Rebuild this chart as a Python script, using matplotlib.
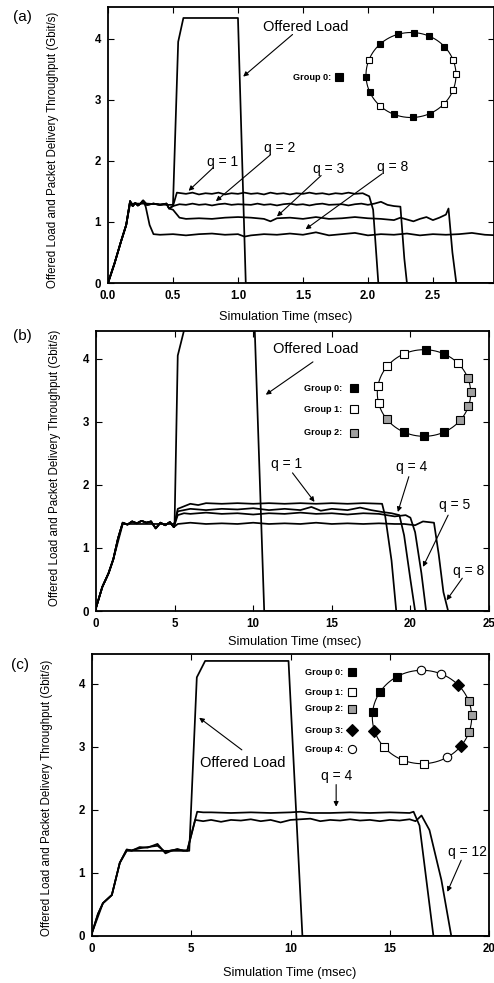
import numpy as np
import matplotlib.pyplot as plt

plt.rcParams['font.family'] = ['Liberation Sans', 'DejaVu Sans']

# ---------------- panel (a) data, time in msec, throughput in Gbit/s
a_load_t = [0, 0.05, 0.10, 0.14, 0.17, 0.30, 0.45, 0.50, 0.54, 0.58, 1.00, 1.06, 3.0]
a_load_y = [0, 0.32, 0.68, 0.95, 1.30, 1.30, 1.28, 1.28, 3.95, 4.34, 4.34, 0, 0]

a_q1_t = [0, 0.05, 0.10, 0.14, 0.17, 0.19, 0.21, 0.23, 0.25, 0.27, 0.30, 0.35, 0.40,
          0.45, 0.47, 0.50, 0.53, 0.60, 0.65, 0.70, 0.75, 0.80, 0.85, 0.90, 0.95, 1.00,
          1.05, 1.10, 1.15, 1.20, 1.25, 1.30, 1.35, 1.40, 1.45, 1.50, 1.55, 1.60, 1.65,
          1.70, 1.75, 1.80, 1.85, 1.90, 1.96, 2.01, 2.04, 2.08, 3.0]
a_q1_y = [0, 0.32, 0.68, 0.95, 1.34, 1.26, 1.31, 1.27, 1.30, 1.35, 1.28, 1.30, 1.28,
          1.30, 1.22, 1.26, 1.48, 1.46, 1.48, 1.45, 1.47, 1.46, 1.48, 1.45, 1.47, 1.46,
          1.48, 1.46, 1.47, 1.45, 1.48, 1.46, 1.47, 1.45, 1.47, 1.46, 1.48, 1.46, 1.47,
          1.45, 1.47, 1.46, 1.48, 1.46, 1.47, 1.42, 1.20, 0, 0]

a_q2_t = [0, 0.05, 0.10, 0.14, 0.17, 0.19, 0.21, 0.23, 0.25, 0.27, 0.30, 0.35, 0.40,
          0.45, 0.47, 0.50, 0.55, 0.60, 0.65, 0.70, 0.75, 0.80, 0.85, 0.90, 0.95, 1.00,
          1.10, 1.15, 1.20, 1.25, 1.30, 1.35, 1.40, 1.45, 1.50, 1.55, 1.60, 1.65, 1.70,
          1.80, 1.85, 1.90, 1.95, 2.00, 2.05, 2.10, 2.15, 2.20, 2.25, 2.28, 2.30, 3.0]
a_q2_y = [0, 0.32, 0.68, 0.95, 1.34, 1.26, 1.31, 1.27, 1.30, 1.35, 1.28, 1.30, 1.28,
          1.30, 1.22, 1.26, 1.29, 1.28, 1.30, 1.28, 1.29, 1.27, 1.29, 1.30, 1.28, 1.29,
          1.28, 1.30, 1.28, 1.29, 1.27, 1.29, 1.30, 1.28, 1.29, 1.27, 1.29, 1.30, 1.28,
          1.29, 1.27, 1.29, 1.30, 1.28, 1.30, 1.33, 1.28, 1.26, 1.25, 0.40, 0, 0]

a_q3_t = [0, 0.05, 0.10, 0.14, 0.17, 0.19, 0.21, 0.23, 0.25, 0.27, 0.30, 0.35, 0.40,
          0.45, 0.47, 0.50, 0.55, 0.60, 0.70, 0.80, 0.90, 1.00, 1.10, 1.20, 1.25, 1.30,
          1.40, 1.50, 1.60, 1.70, 1.80, 1.90, 2.00, 2.10, 2.20, 2.25, 2.30, 2.35, 2.40,
          2.45, 2.50, 2.55, 2.60, 2.62, 2.65, 2.68, 3.0]
a_q3_y = [0, 0.32, 0.68, 0.95, 1.34, 1.26, 1.31, 1.27, 1.30, 1.35, 1.28, 1.30, 1.28,
          1.30, 1.22, 1.20, 1.07, 1.05, 1.06, 1.05, 1.07, 1.08, 1.07, 1.05, 1.01, 1.06,
          1.07, 1.05, 1.08, 1.05, 1.06, 1.08, 1.06, 1.05, 1.03, 1.07, 1.04, 1.01, 1.05,
          1.08, 1.03, 1.07, 1.12, 1.22, 0.50, 0, 0]

a_q8_t = [0, 0.05, 0.10, 0.14, 0.17, 0.19, 0.21, 0.23, 0.25, 0.27, 0.29, 0.32, 0.35,
          0.40, 0.50, 0.60, 0.70, 0.80, 0.90, 1.00, 1.05, 1.10, 1.20, 1.30, 1.40, 1.50,
          1.60, 1.70, 1.80, 1.90, 2.00, 2.10, 2.20, 2.30, 2.40, 2.50, 2.60, 2.70, 2.80,
          2.90, 3.0]
a_q8_y = [0, 0.32, 0.68, 0.95, 1.34, 1.26, 1.31, 1.27, 1.30, 1.35, 1.25, 0.95, 0.80,
          0.79, 0.80, 0.78, 0.80, 0.81, 0.79, 0.80, 0.76, 0.78, 0.80, 0.79, 0.81, 0.79,
          0.83, 0.78, 0.80, 0.82, 0.78, 0.80, 0.79, 0.81, 0.78, 0.80, 0.79, 0.80, 0.82,
          0.79, 0.78]

# ---------------- panel (b)
b_load_t = [0, 0.4, 0.8, 1.1, 1.7, 3.0, 4.9, 5.0, 5.2, 5.6, 10.1, 10.7, 25]
b_load_y = [0.05, 0.38, 0.60, 0.82, 1.38, 1.38, 1.38, 1.40, 4.05, 4.45, 4.45, 0, 0]

b_start_t = [0, 0.4, 0.8, 1.1, 1.4, 1.7, 2.0, 2.3, 2.6, 2.9, 3.2, 3.5, 3.8, 4.1, 4.4, 4.7, 4.95]
b_start_y = [0.05, 0.38, 0.60, 0.82, 1.15, 1.40, 1.37, 1.42, 1.39, 1.43, 1.40, 1.42, 1.31,
             1.40, 1.36, 1.41, 1.33]

b_q1_t = b_start_t + [5.2, 5.6, 6.0, 6.5, 7, 8, 9, 10, 11, 12, 13, 14, 15, 16, 17, 18.2,
                      18.4, 18.8, 19.1, 25]
b_q1_y = b_start_y + [1.62, 1.66, 1.70, 1.68, 1.71, 1.70, 1.71, 1.70, 1.71, 1.70, 1.71,
                      1.70, 1.71, 1.70, 1.71, 1.70, 1.50, 0.80, 0, 0]
b_q4_t = b_start_t + [5.2, 5.6, 6, 7, 8, 9, 10, 11, 12, 13, 13.7, 14.3, 15, 16, 16.8,
                      17.5, 18.2, 18.8, 19.3, 19.6, 20.0, 20.3, 25]
b_q4_y = b_start_y + [1.58, 1.60, 1.62, 1.60, 1.62, 1.61, 1.63, 1.60, 1.62, 1.60, 1.65,
                      1.59, 1.62, 1.60, 1.64, 1.60, 1.57, 1.55, 1.52, 1.20, 0.50, 0, 0]
b_q5_t = b_start_t + [5.2, 5.6, 6, 7, 8, 9, 10, 11, 12, 13, 14, 15, 16, 17, 18, 19,
                      19.7, 20.0, 20.3, 20.7, 21.0, 25]
b_q5_y = b_start_y + [1.52, 1.55, 1.54, 1.56, 1.54, 1.55, 1.53, 1.55, 1.54, 1.56, 1.54,
                      1.55, 1.53, 1.55, 1.54, 1.50, 1.52, 1.48, 1.25, 0.60, 0, 0]
b_q8_t = b_start_t + [5.2, 6, 7, 8, 9, 10, 11, 12, 13, 14, 15, 16, 17, 18, 19, 19.6,
                      20.3, 20.8, 21.5, 21.8, 22.1, 22.4, 25]
b_q8_y = b_start_y + [1.38, 1.40, 1.38, 1.39, 1.38, 1.40, 1.38, 1.39, 1.38, 1.40, 1.38,
                      1.39, 1.38, 1.39, 1.38, 1.38, 1.36, 1.42, 1.40, 0.90, 0.30, 0, 0]

# ---------------- panel (c)
c_load_t = [0, 0.55, 1.0, 1.4, 1.75, 3.0, 4.9, 5.28, 5.7, 9.9, 10.6, 20]
c_load_y = [0.05, 0.52, 0.65, 1.16, 1.35, 1.35, 1.35, 4.10, 4.36, 4.36, 0, 0]

c_q4_t = [0, 0.3, 0.55, 1.0, 1.4, 1.75, 2.0, 2.4, 2.8, 3.3, 3.7, 4.0, 4.3, 4.6, 4.8,
          5.3, 5.6, 6, 7, 8, 9, 10, 10.5, 11, 12, 13, 14, 15, 16, 16.2, 16.5, 16.8,
          17.2, 20]
c_q4_y = [0.05, 0.35, 0.52, 0.65, 1.16, 1.37, 1.35, 1.41, 1.40, 1.46, 1.31, 1.35, 1.38,
          1.35, 1.36, 1.97, 1.96, 1.96, 1.95, 1.96, 1.95, 1.96, 1.97, 1.95, 1.95, 1.96,
          1.95, 1.96, 1.95, 1.97, 1.75, 1.00, 0, 0]
c_q12_t = [0, 0.3, 0.55, 1.0, 1.4, 1.75, 2.0, 2.4, 2.8, 3.3, 3.7, 4.0, 4.3, 4.6, 4.8,
           5.2, 5.6, 6, 6.5, 7, 7.5, 8, 8.5, 9, 9.5, 10, 10.5, 11, 11.5, 12, 12.5, 13,
           13.5, 14, 14.5, 15, 15.5, 16, 16.3, 16.6, 17.0, 17.6, 18.1, 20]
c_q12_y = [0.05, 0.35, 0.52, 0.65, 1.16, 1.37, 1.36, 1.39, 1.41, 1.43, 1.33, 1.36, 1.37,
           1.36, 1.35, 1.84, 1.82, 1.84, 1.81, 1.84, 1.83, 1.85, 1.82, 1.84, 1.80, 1.84,
           1.85, 1.86, 1.82, 1.84, 1.83, 1.85, 1.83, 1.84, 1.82, 1.84, 1.83, 1.85, 1.82,
           1.91, 1.68, 0.89, 0, 0]

# ---------------- rings: node angles (deg) and group of each node
ring_a_angles = [160, 134, 107, 86, 66, 42, 20, 1, -20, -43, -65, -88, -112, -133, -157, -177]
ring_a_groups = ['x', 0, 0, 0, 0, 0, 'x', 'x', 'x', 'x', 0, 0, 0, 'x', 0, 0]
ring_b_angles = [115, 88, 65, 43, 20, 1, -18, -39, -64, -90, -116, -143, -166, 171, 142]
ring_b_groups = [1, 0, 0, 1, 2, 2, 2, 2, 0, 0, 0, 2, 1, 1, 1]
ring_c_angles = [120, 91, 67, 44, 20, 2, -19, -39, -60, -88, -113, -140, -163, 174, 148]
ring_c_groups = [0, 4, 4, 3, 2, 2, 2, 3, 4, 1, 1, 1, 3, 0, 0]

group_style = {
    'x': dict(marker='s', mfc='white', k=1.0),
    0: dict(marker='s', mfc='black', k=1.0),
    1: dict(marker='s', mfc='white', k=1.0),
    2: dict(marker='s', mfc='#a0a0a0', k=1.0),
    3: dict(marker='D', mfc='black', k=1.05),
    4: dict(marker='o', mfc='white', k=1.05),
}

W, H = 494, 983
fig = plt.figure(figsize=(W / 100, H / 100), dpi=100)


def px_axes(x0, y0, x1, y1):
    return fig.add_axes([x0 / W, 1 - y1 / H, (x1 - x0) / W, (y1 - y0) / H])


def style_axes(ax, xlim, ylim, xticks, xlabels):
    ax.set_xlim(*xlim)
    ax.set_ylim(*ylim)
    ax.set_xticks(xticks)
    ax.set_xticklabels(xlabels)
    ax.set_yticks([0, 1, 2, 3, 4])
    ax.tick_params(direction='in', top=True, right=True, length=4, width=0.8,
                   labelsize=8.3, pad=5)
    for lab in ax.get_xticklabels() + ax.get_yticklabels():
        lab.set_fontweight('bold')
    for s in ax.spines.values():
        s.set_linewidth(1.3)


def draw_ring(cx, cy, rx, ry, angles, groups, ms):
    ins = px_axes(cx - 60, cy - 58, cx + 60, cy + 58)
    ins.set_xlim(-60, 60)
    ins.set_ylim(-58, 58)
    ins.axis('off')
    th = np.linspace(0, 2 * np.pi, 200)
    ins.plot(rx * np.cos(th), ry * np.sin(th), color='black', lw=0.8)
    for ang, g in zip(angles, groups):
        a = np.deg2rad(ang)
        st = group_style[g]
        ins.plot(rx * np.cos(a), ry * np.sin(a), st['marker'], mfc=st['mfc'], mec='black',
                 mew=0.8, ms=ms * st['k'])


def legend_items(ax, xt, xm, ys, groups, ms):
    for y, g in zip(ys, groups):
        ax.text(xt, y, f'Group {g}:', transform=ax.transAxes, fontsize=6.6,
                fontweight='bold', va='center', ha='left')
        st = group_style[g]
        ax.plot([xm], [y], st['marker'], mfc=st['mfc'], mec='black', mew=0.8,
                ms=ms * st['k'], transform=ax.transAxes)


def arrow(ax, tail, head):
    ax.annotate('', xy=head, xytext=tail,
                arrowprops=dict(arrowstyle='-|>', lw=0.8, color='black',
                                mutation_scale=7, shrinkA=0, shrinkB=0))


lw = 1.25
ylab = 'Offered Load and Packet Delivery Throughput (Gbit/s)'
ylab_fs = 8.3
xlab_fs = 9.2
load_fs = 10.5
q_fs = 10

# ---------------- (a)
ax = px_axes(108, 7, 494, 283)
for t, y in [(a_load_t, a_load_y), (a_q1_t, a_q1_y), (a_q2_t, a_q2_y),
             (a_q3_t, a_q3_y), (a_q8_t, a_q8_y)]:
    ax.plot(t, y, color='black', lw=lw)
style_axes(ax, (0, 2.97), (0, 4.52), [0, 0.5, 1.0, 1.5, 2.0, 2.5],
           ['0.0', '0.5', '1.0', '1.5', '2.0', '2.5'])
ax.text(1.52, 4.20, 'Offered Load', fontsize=load_fs, ha='center', va='center')
arrow(ax, (1.42, 4.07), (1.04, 3.38))
ax.text(0.88, 1.98, 'q = 1', fontsize=q_fs, ha='center', va='center')
arrow(ax, (0.81, 1.89), (0.62, 1.51))
ax.text(1.32, 2.21, 'q = 2', fontsize=q_fs, ha='center', va='center')
arrow(ax, (1.25, 2.10), (0.83, 1.34))
ax.text(1.70, 1.87, 'q = 3', fontsize=q_fs, ha='center', va='center')
arrow(ax, (1.64, 1.76), (1.30, 1.09))
ax.text(2.19, 1.90, 'q = 8', fontsize=q_fs, ha='center', va='center')
arrow(ax, (2.11, 1.79), (1.52, 0.88))
legend_items(ax, 0.479, 0.598, [0.746], [0], 5.2)
draw_ring(411, 75, 45, 42.5, ring_a_angles, ring_a_groups, 5.0)
fig.text(53 / W, 1 - 150 / H, ylab, rotation=90, fontsize=ylab_fs, ha='center', va='center')
fig.text(286 / W, 1 - 317 / H, 'Simulation Time (msec)', fontsize=xlab_fs, ha='center', va='center')
fig.text(22 / W, 1 - 17 / H, '(a)', fontsize=11, ha='center', va='center')

# ---------------- (b)
ax = px_axes(96, 331, 489, 611)
for t, y in [(b_load_t, b_load_y), (b_q1_t, b_q1_y), (b_q4_t, b_q4_y),
             (b_q5_t, b_q5_y), (b_q8_t, b_q8_y)]:
    ax.plot(t, y, color='black', lw=lw)
style_axes(ax, (0, 25), (0, 4.44), [0, 5, 10, 15, 20, 25],
           ['0', '5', '10', '15', '20', '25'])
ax.text(14.0, 4.16, 'Offered Load', fontsize=load_fs, ha='center', va='center')
arrow(ax, (13.8, 3.95), (10.8, 3.43))
ax.text(12.15, 2.33, 'q = 1', fontsize=q_fs, ha='center', va='center')
arrow(ax, (12.5, 2.19), (13.9, 1.73))
ax.text(20.1, 2.29, 'q = 4', fontsize=q_fs, ha='center', va='center')
arrow(ax, (19.9, 2.13), (19.2, 1.57))
ax.text(22.8, 1.68, 'q = 5', fontsize=q_fs, ha='center', va='center')
arrow(ax, (22.4, 1.52), (20.8, 0.70))
ax.text(23.7, 0.63, 'q = 8', fontsize=q_fs, ha='center', va='center')
arrow(ax, (23.3, 0.52), (22.3, 0.17))
legend_items(ax, 0.529, 0.656, [0.796, 0.721, 0.636], [0, 1, 2], 5.4)
draw_ring(424, 393, 46.7, 43.3, ring_b_angles, ring_b_groups, 5.6)
fig.text(55 / W, 1 - 468 / H, ylab, rotation=90, fontsize=ylab_fs, ha='center', va='center')
fig.text(295 / W, 1 - 642 / H, 'Simulation Time (msec)', fontsize=xlab_fs, ha='center', va='center')
fig.text(22 / W, 1 - 336 / H, '(b)', fontsize=11, ha='center', va='center')

# ---------------- (c)
ax = px_axes(92, 654, 489, 936)
for t, y in [(c_load_t, c_load_y), (c_q4_t, c_q4_y), (c_q12_t, c_q12_y)]:
    ax.plot(t, y, color='black', lw=lw)
style_axes(ax, (0, 20), (0, 4.47), [0, 5, 10, 15, 20], ['0', '5', '10', '15', '20'])
ax.text(7.6, 2.75, 'Offered Load', fontsize=load_fs, ha='center', va='center')
arrow(ax, (7.55, 2.95), (5.4, 3.46))
ax.text(12.3, 2.54, 'q = 4', fontsize=q_fs, ha='center', va='center')
arrow(ax, (12.3, 2.40), (12.3, 2.05))
ax.text(18.9, 1.33, 'q = 12', fontsize=q_fs, ha='center', va='center')
arrow(ax, (18.6, 1.20), (17.9, 0.70))
legend_items(ax, 0.537, 0.655, [0.936, 0.865, 0.805, 0.730, 0.663], [0, 1, 2, 3, 4], 5.6)
draw_ring(422, 717, 49.7, 46.7, ring_c_angles, ring_c_groups, 5.8)
fig.text(47 / W, 1 - 798 / H, ylab, rotation=90, fontsize=ylab_fs, ha='center', va='center')
fig.text(290 / W, 1 - 973 / H, 'Simulation Time (msec)', fontsize=xlab_fs, ha='center', va='center')
fig.text(20 / W, 1 - 665 / H, '(c)', fontsize=11, ha='center', va='center')

fig.savefig('out.png', dpi=100)
